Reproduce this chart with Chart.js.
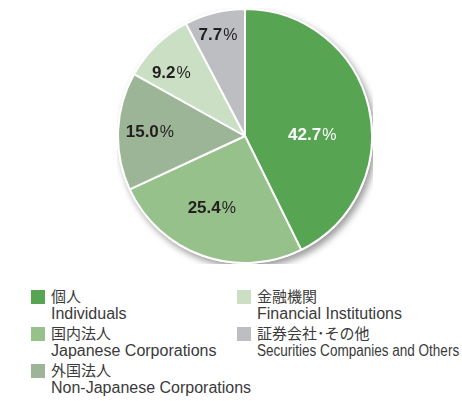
<!DOCTYPE html>
<html>
<head>
<meta charset="utf-8">
<script src="https://cdn.jsdelivr.net/npm/chart.js@4.4.0/dist/chart.umd.min.js"></script>
<style>
  body { margin:0; background:#fff; width:462px; height:401px; overflow:hidden; position:relative; }
  #pieBox { position:absolute; left:117px; top:8px; width:256px; height:256px; }
  .leg { position:absolute; font-family:"Liberation Sans", Arial, sans-serif; color:#3a3a3a; }
  .leg .sw { position:absolute; left:0; top:0; width:14px; height:14px; }
  .leg .jp { position:absolute; left:20px; top:-4px; font-family:"Noto Sans CJK JP", sans-serif; font-size:15px; line-height:20px; white-space:nowrap; }
  .leg .en { position:absolute; left:20px; top:15px; font-size:16px; line-height:18px; white-space:nowrap; transform-origin:0 0; }
</style>
</head>
<body>
<div id="pieBox"><canvas id="graphique"></canvas></div>
<div id="legende"></div>
<script>
var categoriesJP = ['個人', '国内法人', '外国法人', '金融機関', '証券会社･その他'];
var categoriesEN = ['Individuals', 'Japanese Corporations', 'Non-Japanese Corporations', 'Financial Institutions', 'Securities Companies and Others'];
var parts = [42.7, 25.4, 15.0, 9.2, 7.7];
var couleurs = ['#57a553', '#96c18b', '#9bb596', '#cadfc4', '#bdbec2'];
var couleursTexte = ['#ffffff', '#231f20', '#231f20', '#231f20', '#231f20'];

// decalage de l'etiquette : angle (degres) et fraction du rayon
var decalAngle = [11.4, 5.5, 1, -4.6, -1];
var decalRayon = [0.53, 0.62, 0.75, 0.77, 0.83];

// legende html (deux colonnes)
var posLegende = [[31, 290], [31, 327], [31, 364], [237, 290], [237, 327]];
var legende = document.getElementById('legende');
categoriesJP.forEach(function(nom, i) {
  var d = document.createElement('div');
  d.className = 'leg';
  d.style.left = posLegende[i][0] + 'px';
  d.style.top = posLegende[i][1] + 'px';
  var en = categoriesEN[i];
  var style = i == 4 ? ' style="transform:scaleX(0.845)"' : '';
  d.innerHTML = '<div class="sw" style="background:' + couleurs[i] + '"></div>' +
    '<div class="jp">' + nom + '</div><div class="en"' + style + '>' + en + '</div>';
  legende.appendChild(d);
});

var ombre = {
  id: 'ombre',
  beforeDatasetsDraw: function(chart) {
    var arc = chart.getDatasetMeta(0).data[0];
    if (!arc) return;
    var ctx = chart.ctx;
    ctx.save();
    ctx.shadowColor = 'rgba(0,0,0,0.4)';
    ctx.shadowBlur = 7;
    ctx.shadowOffsetX = 3;
    ctx.shadowOffsetY = 4;
    ctx.fillStyle = '#ffffff';
    ctx.beginPath();
    ctx.arc(arc.x, arc.y, arc.outerRadius + 1, 0, Math.PI * 2);
    ctx.fill();
    ctx.restore();
  }
};

var etiquettes = {
  id: 'etiquettes',
  afterDatasetsDraw: function(chart) {
    var ctx = chart.ctx;
    chart.getDatasetMeta(0).data.forEach(function(arc, i) {
      var a = (arc.startAngle + arc.endAngle) / 2 + decalAngle[i] * Math.PI / 180;
      var r = arc.outerRadius * decalRayon[i];
      var x = arc.x + Math.cos(a) * r;
      var y = arc.y + Math.sin(a) * r;
      var num = parts[i].toFixed(1);
      var fNum = 'bold 17px "Liberation Sans", Arial, sans-serif';
      var fPct = '16px "Liberation Sans", Arial, sans-serif';
      ctx.save();
      ctx.font = fNum;
      var w1 = ctx.measureText(num).width;
      ctx.font = fPct;
      var w2 = ctx.measureText('%').width;
      var x0 = x - (w1 + w2 + 1) / 2;
      ctx.fillStyle = couleursTexte[i];
      ctx.textBaseline = 'alphabetic';
      ctx.textAlign = 'left';
      ctx.font = fNum;
      ctx.fillText(num, x0, y + 6);
      ctx.font = fPct;
      ctx.fillText('%', x0 + w1 + 1, y + 6);
      ctx.restore();
    });
  }
};

var ctx = document.getElementById('graphique').getContext('2d');
var graphique = new Chart(ctx, {
  type: 'pie',
  data: {
    labels: categoriesEN,
    datasets: [{
      data: parts,
      backgroundColor: couleurs,
      borderColor: '#ffffff',
      borderWidth: 2
    }]
  },
  options: {
    responsive: true,
    maintainAspectRatio: false,
    animation: false,
    layout: { padding: 0 },
    plugins: {
      legend: { display: false },
      tooltip: { enabled: false }
    }
  },
  plugins: [ombre, etiquettes]
});
</script>
</body>
</html>
